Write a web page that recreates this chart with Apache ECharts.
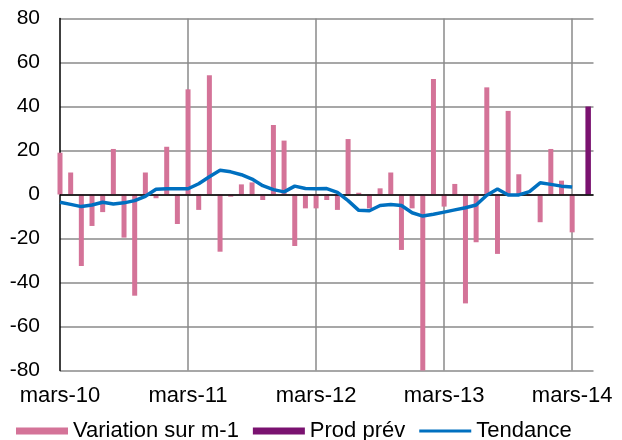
<!DOCTYPE html>
<html>
<head>
<meta charset="utf-8">
<script src="https://cdn.jsdelivr.net/npm/echarts@6/dist/echarts.min.js"></script>
<style>
    html, body { margin: 0; padding: 0; background: #fff; }
    #chart { width: 622px; height: 440px; }
</style>
</head>
<body>
<div id="chart"></div>
<script>
// mois (mars-10 ... mai-14)
var mois = [
    'mars-10', 'avr-10', 'mai-10', 'juin-10', 'juil-10', 'août-10', 'sept-10', 'oct-10', 'nov-10', 'déc-10', 'janv-11', 'févr-11',
    'mars-11', 'avr-11', 'mai-11', 'juin-11', 'juil-11', 'août-11', 'sept-11', 'oct-11', 'nov-11', 'déc-11', 'janv-12', 'févr-12',
    'mars-12', 'avr-12', 'mai-12', 'juin-12', 'juil-12', 'août-12', 'sept-12', 'oct-12', 'nov-12', 'déc-12', 'janv-13', 'févr-13',
    'mars-13', 'avr-13', 'mai-13', 'juin-13', 'juil-13', 'août-13', 'sept-13', 'oct-13', 'nov-13', 'déc-13', 'janv-14', 'févr-14',
    'mars-14', 'avr-14', 'mai-14'
];

// Variation sur m-1
var variation = [
    19, 10, -32.5, -14.3, -8, 20.7, -19.6, -46, 10, -1.7, 21.7, -13.4,
    47.8, -7, 54.2, -26, -1, 4.6, 5.5, -2.5, 31.6, 24.5, -23.4, -6.3,
    -6.3, -2.5, -7, 25.2, 0.8, -6.3, 2.8, 10, -25.2, -6.3, -80, 52.5,
    -5.5, 4.8, -49.5, -21.7, 48.7, -27, 38, 9.2, -0.7, -12.6, 20.7, 6.3,
    -17.2, null, null
];

// Prod prév (avr-14)
var prodPrev = [];
for (var k = 0; k < 49; k++) prodPrev.push(null);
prodPrev.push(40);

// Tendance
var tendance = [
    -3.5, -4.5, -5.5, -4.8, -3.5, -4.3, -3.8, -2.8, -0.8, 2.4, 2.6, 2.6,
    2.6, 4.9, 8.1, 11, 10.3, 9, 7, 4, 2.2, 1.2, 3.8, 2.7,
    2.6, 2.7, 1, -2.8, -7.2, -7.4, -5, -4.5, -5, -8.3, -9.8, -9,
    -8, -7, -6, -4.8, -0.3, 2.5, -0.2, -0.2, 1.3, 5.3, 4.6, 3.8,
    3.4
];

var police = 'Liberation Sans, Arial, sans-serif';
// icône de légende : trait de 3px dans une boîte de 52x7
var iconTrait = 'path://M0,0L0.01,0L0.01,0.01ZM0,2L52,2L52,5L0,5ZM0,7L0.01,7L0.01,6.99Z';

var myChart = echarts.init(document.getElementById('chart'));
var option = {
    animation: false,
    textStyle: { fontFamily: police },
    grid: { left: 60, right: 28.5, top: 18.5, bottom: 69.5 },
    legend: {
        top: 415,
        left: 11,
        itemWidth: 52,
        itemHeight: 7,
        itemGap: 14,
        textStyle: { fontSize: 22, color: '#000', fontFamily: police },
        data: [
            { name: 'Variation sur m-1', icon: 'rect' },
            { name: 'Prod prév', icon: 'rect' },
            { name: 'Tendance', icon: iconTrait }
        ]
    },
    xAxis: [
        {
            type: 'category',
            data: mois,
            boundaryGap: false,
            axisLine: { show: false },
            axisTick: { show: false },
            axisLabel: {
                interval: 11,
                fontSize: 22,
                color: '#000',
                margin: 14
            },
            splitLine: {
                show: true,
                interval: function (i) { return i > 0 && i % 12 === 0; },
                lineStyle: { color: '#8a8a8a', width: 1.5 }
            }
        },
        {
            // axe caché pour la barre de prévision (milieu du mois)
            type: 'category',
            data: mois.slice(0, 50),
            boundaryGap: true,
            show: false
        }
    ],
    yAxis: {
        type: 'value',
        min: -80,
        max: 80,
        interval: 20,
        axisLine: { show: true, lineStyle: { color: '#000', width: 1.5 } },
        axisTick: { show: false },
        axisLabel: { fontSize: 21, color: '#000', margin: 20 },
        splitLine: { lineStyle: { color: '#8a8a8a', width: 1.5 } }
    },
    series: [
        {
            name: 'Variation sur m-1',
            type: 'bar',
            xAxisIndex: 0,
            barWidth: 5,
            itemStyle: { color: '#d47398' },
            data: variation,
            markLine: {
                silent: true,
                symbol: 'none',
                label: { show: false },
                lineStyle: { color: '#000', width: 1.5, type: 'solid' },
                data: [{ yAxis: 0 }]
            }
        },
        {
            name: 'Prod prév',
            type: 'bar',
            xAxisIndex: 1,
            barWidth: 5.5,
            itemStyle: { color: '#7a1270' },
            data: prodPrev
        },
        {
            name: 'Tendance',
            type: 'line',
            xAxisIndex: 0,
            symbol: 'none',
            z: 5,
            lineStyle: { color: '#0070c0', width: 3.5 },
            itemStyle: { color: '#0070c0' },
            data: tendance
        }
    ]
};
if (option && typeof option === "object") {
    myChart.setOption(option, true);
}
</script>
</body>
</html>
